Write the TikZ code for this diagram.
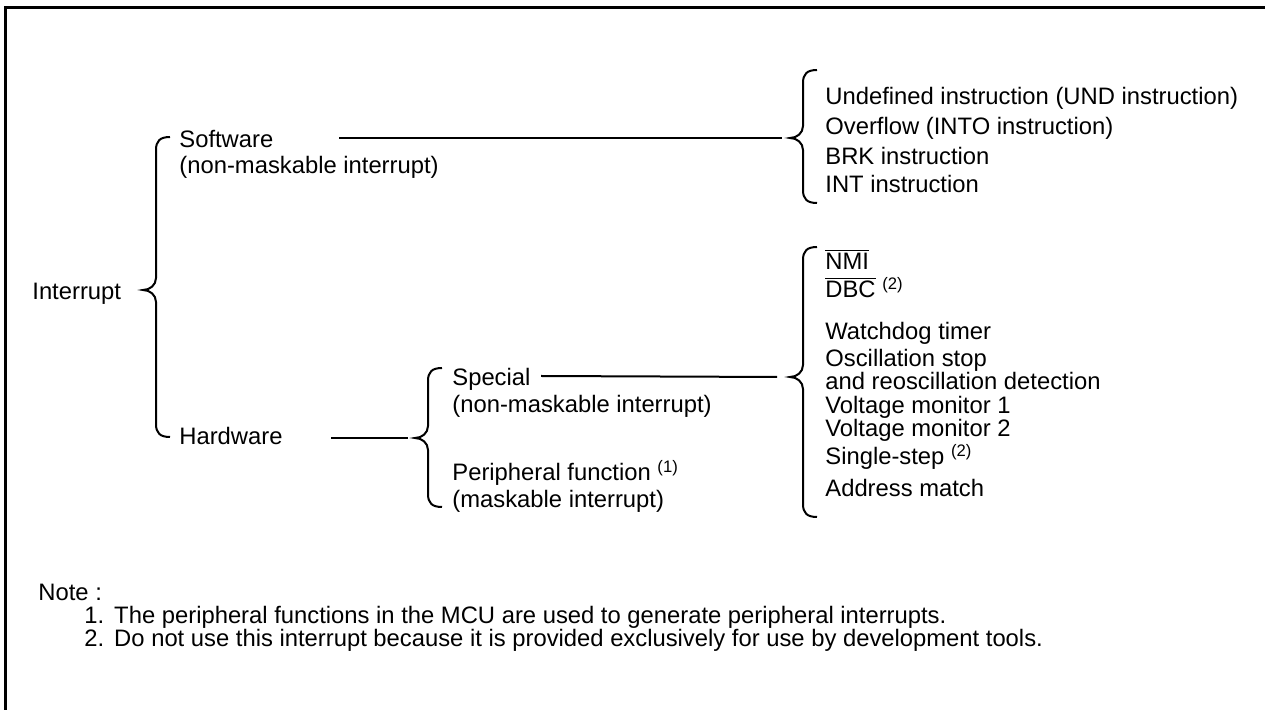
\documentclass[tikz,border=0pt]{standalone}
\usepackage{fontspec}
\setmainfont{Liberation Sans}
\newcommand{\brc}[5]{% name prefix, x, top, mid, bottom
  \coordinate (#1tip) at (#2-13,#4);
  \draw[bracestyle] (#2+14,#3) .. controls (#2+4,#3) and (#2,#3+4) .. (#2,#3+13)
    -- (#2,#4-12) .. controls (#2,#4-5) and (#2-6,#4) .. (#1tip)
    .. controls (#2-6,#4) and (#2,#4+5) .. (#2,#4+12)
    -- (#2,#5-13) .. controls (#2,#5-4) and (#2+4,#5) .. (#2+14,#5);}
\begin{document}
\begin{tikzpicture}[x=0.5pt,y=-0.5pt,
  bracestyle/.style={line width=1pt},
  conn/.style={line width=1pt},
  lbl/.style={anchor=base west,inner sep=0pt,font=\fontsize{11.9}{14}\selectfont},
  note/.style={anchor=base west,inner sep=0pt,font=\fontsize{11.9}{13}\selectfont}]
\useasboundingbox (0,0) rectangle (1265,710);
% frame
\draw[line width=1.5pt] (5,710) -- (5,8) -- (1265,8);
% labels
\node[lbl] (intr) at (32,300) {Interrupt};
\node[lbl] (sw) at (179,148) {Software};
\node[lbl] (swn) at (179,174) {(non-maskable interrupt)};
\node[lbl] (hw) at (179,445) {Hardware};
\node[lbl] (sp) at (452,386) {Special};
\node[lbl] (spn) at (452,413) {(non-maskable interrupt)};
\node[lbl] (pf) at (452,481) {Peripheral function \textsuperscript{(1)}};
\node[lbl] (pfn) at (452,508) {(maskable interrupt)};
% software list
\node[lbl] (s1) at (825,105) {Undefined instruction (UND instruction)};
\node[lbl] (s2) at (825,135) {Overflow (INTO instruction)};
\node[lbl] (s3) at (825,165) {BRK instruction};
\node[lbl] (s4) at (825,193) {INT instruction};
% special list
\node[lbl] (h1) at (825,270) {$\overline{\hbox{NMI}}$};
\node[lbl] (h2) at (825,298) {$\overline{\hbox{DBC}}$ \textsuperscript{(2)}};
\node[lbl] (h3) at (825,340) {Watchdog timer};
\node[lbl] (h4) at (825,367) {Oscillation stop};
\node[lbl] (h5) at (825,390) {and reoscillation detection};
\node[lbl] (h6) at (825,414) {Voltage monitor 1};
\node[lbl] (h7) at (825,437) {Voltage monitor 2};
\node[lbl] (h8) at (825,465) {Single-step \textsuperscript{(2)}};
\node[lbl] (h9) at (825,497) {Address match};
% braces
\brc{bi}{156}{137}{290}{437}
\brc{bh}{428}{368}{438}{507}
\brc{bs}{803}{70}{138}{203}
\brc{bp}{803}{247}{377}{517}
% connectors
\coordinate (swl) at (339,138);
\coordinate (hwl) at (331,438);
\coordinate (spl) at (541,376);
\draw[conn] (swl) -- ([xshift=-4pt]bstip);
\draw[conn] (hwl) -- ([xshift=-3.5pt]bhtip);
\draw[conn] (spl) -- ([xshift=-6.5pt]bptip);
% notes
\node[note] (nt) at (38,601) {Note :};
\node[note] (n1) at (84,624) {1.\hspace{5pt}The peripheral functions in the MCU are used to generate peripheral interrupts.};
\node[note] (n2) at (84,647) {2.\hspace{5pt}Do not use this interrupt because it is provided exclusively for use by development tools.};
\end{tikzpicture}
\end{document}
